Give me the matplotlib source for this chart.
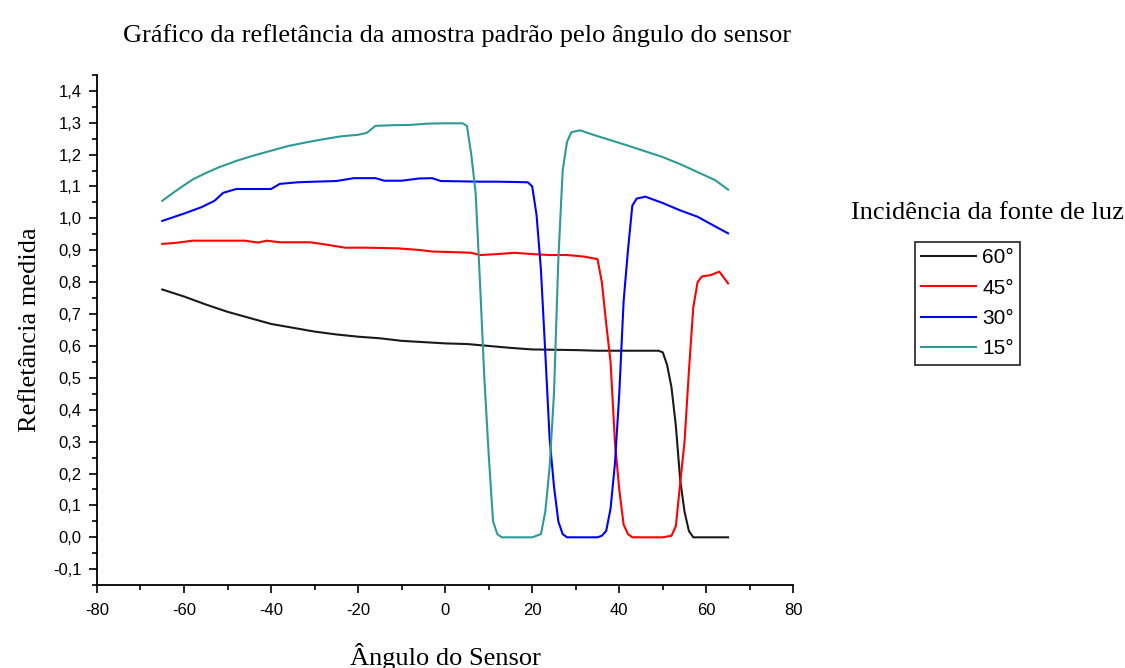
import matplotlib.pyplot as plt
from matplotlib.ticker import MultipleLocator, FuncFormatter

plt.rcParams['axes.unicode_minus'] = False

# Incidência 60°
x60 = [-65, -60, -55, -50, -45, -40, -35, -30, -25, -20, -15, -10, -5, 0, 5, 10, 15, 20,
       25, 30, 35, 40, 45, 49, 50, 51, 52, 53, 54, 55, 56, 57, 58, 62, 65]
y60 = [0.777, 0.755, 0.730, 0.707, 0.688, 0.669, 0.657, 0.645, 0.636, 0.629, 0.624, 0.616,
       0.612, 0.608, 0.606, 0.600, 0.594, 0.589, 0.588, 0.587, 0.585, 0.585, 0.585, 0.585,
       0.58, 0.54, 0.47, 0.35, 0.18, 0.08, 0.02, 0.0, 0.0, 0.0, 0.0]

# Incidência 45°
x45 = [-65, -62, -58, -50, -46, -43, -41, -38, -31, -27, -23, -18, -11, -6, -3, 2, 6, 8,
       12, 16, 20, 24, 28, 32, 35, 36, 37, 38, 39, 40, 41, 42, 43, 46, 50, 52, 53, 54, 55,
       56, 57, 58, 59, 61, 63, 65]
y45 = [0.920, 0.923, 0.930, 0.930, 0.930, 0.924, 0.930, 0.925, 0.925, 0.917, 0.908, 0.908,
       0.906, 0.901, 0.896, 0.894, 0.892, 0.885, 0.888, 0.892, 0.888, 0.885, 0.885, 0.880,
       0.872, 0.80, 0.67, 0.55, 0.30, 0.15, 0.04, 0.01, 0.0, 0.0, 0.0, 0.005, 0.035, 0.17,
       0.30, 0.52, 0.72, 0.80, 0.818, 0.822, 0.833, 0.796]

# Incidência 30°
x30 = [-65, -60, -56, -53, -51, -48, -44, -40, -38, -34, -30, -25, -21, -16, -14, -10, -6,
       -3, -1, 4, 8, 12, 16, 19, 20, 21, 22, 23, 24, 25, 26, 27, 28, 30, 33, 35, 36, 37, 38,
       39, 40, 41, 42, 43, 44, 46, 50, 54, 58, 62, 65]
y30 = [0.992, 1.015, 1.035, 1.055, 1.080, 1.092, 1.092, 1.092, 1.108, 1.113, 1.115, 1.117,
       1.126, 1.126, 1.118, 1.118, 1.125, 1.126, 1.117, 1.116, 1.115, 1.115, 1.114, 1.113,
       1.10, 1.01, 0.84, 0.58, 0.31, 0.16, 0.05, 0.01, 0.0, 0.0, 0.0, 0.0, 0.005, 0.02, 0.09,
       0.23, 0.45, 0.74, 0.90, 1.04, 1.062, 1.068, 1.048, 1.025, 1.005, 0.975, 0.953]

# Incidência 15°
x15 = [-65, -62, -58, -55, -52, -48, -44, -40, -36, -32, -28, -24, -20, -18, -16, -12, -8,
       -4, 0, 4, 5, 6, 7, 8, 9, 10, 11, 12, 13, 16, 20, 22, 23, 24, 25, 26, 27, 28, 29, 31,
       34, 38, 42, 46, 50, 54, 58, 62, 65]
y15 = [1.055, 1.085, 1.122, 1.142, 1.160, 1.180, 1.197, 1.212, 1.227, 1.238, 1.248, 1.257,
       1.262, 1.268, 1.290, 1.292, 1.293, 1.297, 1.298, 1.298, 1.29, 1.20, 1.08, 0.80, 0.50,
       0.26, 0.05, 0.01, 0.0, 0.0, 0.0, 0.01, 0.08, 0.22, 0.45, 0.87, 1.15, 1.24, 1.27, 1.276,
       1.262, 1.245, 1.228, 1.21, 1.192, 1.17, 1.145, 1.12, 1.09]

serif = ['Liberation Serif', 'DejaVu Serif']
sans = ['Liberation Sans', 'DejaVu Sans']

fig = plt.figure(figsize=(11.25, 6.68), dpi=100)
ax = fig.add_axes([0.0862, 0.124, 0.619, 0.764])

ax.plot(x60, y60, color='#1a1a1a', lw=1.5, label='60°')
ax.plot(x45, y45, color='#ff0000', lw=1.5, label='45°')
ax.plot(x30, y30, color='#0000ff', lw=1.5, label='30°')
ax.plot(x15, y15, color='#2f9a95', lw=1.5, label='15°')

ax.set_xlim(-80, 80)
ax.set_ylim(-0.15, 1.45)
ax.xaxis.set_major_locator(MultipleLocator(20))
ax.xaxis.set_minor_locator(MultipleLocator(10))
ax.yaxis.set_major_locator(MultipleLocator(0.1))
ax.yaxis.set_minor_locator(MultipleLocator(0.05))
ax.yaxis.set_major_formatter(FuncFormatter(lambda v, p: f'{v:.1f}'.replace('.', ',').replace('-0,0', '0,0')))
ax.tick_params(which='major', direction='out', length=6, width=1.2, labelsize=12)
ax.tick_params(which='minor', direction='out', length=3.5, width=1.2)
ax.tick_params(axis='x', which='major', pad=7)
ax.tick_params(axis='y', which='major', pad=5)
for t in ax.get_xticklabels() + ax.get_yticklabels():
    t.set_family(sans)

ax.spines['top'].set_visible(False)
ax.spines['right'].set_visible(False)
ax.spines['left'].set_linewidth(1.3)
ax.spines['bottom'].set_linewidth(1.3)

ax.set_xlabel('Ângulo do Sensor', family=serif, fontsize=19, labelpad=18)
ax.set_ylabel('Refletância medida', family=serif, fontsize=19, labelpad=9)
fig.text(0.406, 0.947, 'Gráfico da refletância da amostra padrão pelo ângulo do sensor',
         family=serif, fontsize=19, ha='center', va='center')

fig.text(0.878, 0.681, 'Incidência da fonte de luz', family=serif, fontsize=19,
         ha='center', va='center')
leg = ax.legend(loc='upper left', bbox_to_anchor=(0.813, 0.638),
                bbox_transform=fig.transFigure, frameon=True, fancybox=False,
                prop={'family': sans, 'size': 15}, handlelength=2.65,
                handletextpad=0.3, labelspacing=0.55, borderpad=0.3,
                borderaxespad=0)
leg.get_frame().set_edgecolor('black')
leg.get_frame().set_linewidth(1.3)

plt.savefig('out.png', dpi=100)
